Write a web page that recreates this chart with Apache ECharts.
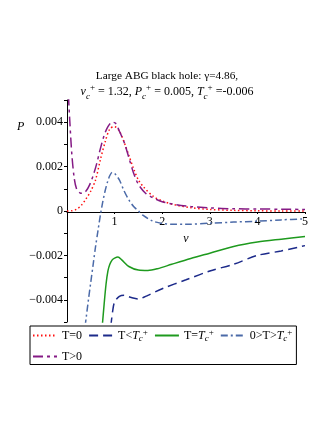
<!DOCTYPE html>
<html>
<head>
<meta charset="utf-8">
<script src="https://cdn.jsdelivr.net/npm/echarts@6/dist/echarts.min.js"></script>
<style>
  html, body { margin: 0; padding: 0; background: #fff; }
  #chart { width: 332px; height: 430px; }
</style>
</head>
<body>
<div id="chart"></div>
<script>
// P-v curves of large ABG black hole
var tZero = [[0,0],[0.1,0.00001],[0.2,0.00008],[0.3,0.00025],[0.4,0.00055],[0.5,0.0009],[0.6,0.0014],[0.7,0.0023],[0.8,0.0031],[0.9,0.0037],[1.0,0.0038],[1.1,0.0036],[1.2,0.0031],[1.3,0.0025],[1.4,0.0019],[1.5,0.0014],[1.6,0.0011],[1.8,0.00068],[2.0,0.00045],[2.3,0.00026],[2.6,0.00015],[3.0,0.00007],[3.5,0.00003],[4.0,0.00001],[4.5,0],[5.0,0]];
var tBelow = [[0.92,-0.0052],[0.96,-0.0045],[1.0,-0.0041],[1.1,-0.00385],[1.2,-0.0038],[1.35,-0.0039],[1.5,-0.00396],[1.7,-0.0038],[2.0,-0.0035],[2.5,-0.0031],[3.0,-0.0027],[3.5,-0.0024],[4.0,-0.0020],[4.5,-0.0018],[5.0,-0.00156]];
var tCrit = [[0.74,-0.0052],[0.78,-0.0042],[0.82,-0.0033],[0.86,-0.0027],[0.9,-0.0024],[0.95,-0.0022],[1.0,-0.00212],[1.07,-0.00207],[1.15,-0.0022],[1.3,-0.0025],[1.5,-0.00266],[1.7,-0.00268],[1.9,-0.0026],[2.2,-0.0024],[2.6,-0.00214],[3.0,-0.0019],[3.5,-0.0016],[4.0,-0.0014],[4.5,-0.00127],[5.0,-0.00115]];
var tMid = [[0.38,-0.0052],[0.45,-0.004],[0.5,-0.0032],[0.55,-0.0024],[0.6,-0.0016],[0.65,-0.0009],[0.7,-0.0002],[0.75,0.0004],[0.8,0.0009],[0.85,0.0013],[0.9,0.0016],[0.95,0.00174],[1.0,0.0017],[1.1,0.0014],[1.2,0.0009],[1.3,0.0005],[1.4,0.0002],[1.5,0],[1.6,-0.0002],[1.8,-0.00045],[2.0,-0.00056],[2.2,-0.0006],[2.5,-0.0006],[3.0,-0.00055],[3.5,-0.0005],[4.0,-0.00046],[4.5,-0.0004],[5.0,-0.00035]];
var tAbove = [[0.03,0.0052],[0.06,0.004],[0.1,0.0026],[0.15,0.0015],[0.2,0.001],[0.27,0.00082],[0.33,0.0008],[0.4,0.0009],[0.48,0.0012],[0.55,0.0016],[0.62,0.0021],[0.7,0.0028],[0.78,0.0034],[0.86,0.0038],[0.95,0.0040],[1.02,0.00395],[1.1,0.0036],[1.2,0.0031],[1.3,0.0024],[1.4,0.0017],[1.5,0.0012],[1.65,0.0008],[1.8,0.0006],[2.0,0.00042],[2.3,0.00028],[2.6,0.0002],[3.0,0.00014],[3.5,0.0001],[4.0,0.00009],[4.5,0.00008],[5.0,0.00007]];
var seriesNames = ['T=0', 'T<Tc', 'T=Tc', '0>T>Tc', 'T>0'];

var chart = echarts.init(document.getElementById('chart'));
var serif = '"Liberation Serif", "DejaVu Serif", serif';
var rich = {
    h: { fontFamily: serif, fontSize: 11.3, fontWeight: 'normal', color: '#000' },
    n: { fontFamily: serif, fontSize: 12, fontWeight: 'normal', color: '#000' },
    i: { fontFamily: serif, fontSize: 12, fontWeight: 'normal', fontStyle: 'italic', color: '#000' },
    sub: { fontFamily: serif, fontSize: 9, fontWeight: 'normal', fontStyle: 'italic', color: '#000', verticalAlign: 'bottom', lineHeight: 18 },
    sup: { fontFamily: serif, fontSize: 9, fontWeight: 'normal', color: '#000', verticalAlign: 'top', lineHeight: 18 }
};
var legRich = {
    n: { fontFamily: serif, fontSize: 12, color: '#000', lineHeight: 13 },
    i: { fontFamily: serif, fontSize: 12, fontStyle: 'italic', color: '#000', lineHeight: 13 },
    sub: { fontFamily: serif, fontSize: 9, fontStyle: 'italic', color: '#000', verticalAlign: 'bottom', lineHeight: 15 },
    sup: { fontFamily: serif, fontSize: 9, color: '#000', verticalAlign: 'top', lineHeight: 15 }
};

function legendText(name) {
    if (name === 'T<Tc') return '{n|T<}{i|T}{sub|c}{sup|+}';
    if (name === 'T=Tc') return '{n|T=}{i|T}{sub|c}{sup|+}';
    if (name === '0>T>Tc') return '{n|0>T>}{i|T}{sub|c}{sup|+}';
    return '{n|' + name + '}';
}

function mkLine(name, data, color, type, width) {
    return {
        name: name,
        type: 'line',
        data: data,
        smooth: 0.3,
        symbol: 'none',
        clip: true,
        lineStyle: { color: color, type: type, width: width },
        itemStyle: { color: color }
    };
}

option = {
    animation: false,
    title: {
        text: '{h|Large ABG black hole: γ=4.86,}\n{i|v}{sub|c}{sup|+}{n| = 1.32, }{i|P}{sub|c}{sup|+}{n| = 0.005, }{i|T}{sub|c}{sup|+}{n| =-0.006}',
        left: 162,
        textAlign: 'center',
        top: 64,
        textStyle: { rich: rich, fontWeight: 'normal', lineHeight: 14 }
    },
    grid: { left: 67, right: 27, top: 100, bottom: 108 },
    legend: {
        data: seriesNames,
        left: 30,
        top: 326,
        width: 262,
        itemWidth: 24,
        itemHeight: 10,
        itemGap: 6,
        padding: [2, 4, 2, 2],
        borderColor: '#000',
        borderWidth: 1,
        borderRadius: 0,
        itemStyle: { color: 'transparent', borderWidth: 0, opacity: 0 },
        formatter: legendText,
        textStyle: { rich: legRich, padding: [0, 0, 0, 0] }
    },
    xAxis: {
        type: 'value',
        min: 0,
        max: 5,
        interval: 1,
        position: 'bottom',
        offset: -110,
        name: 'v',
        nameLocation: 'middle',
        nameGap: 20,
        nameTextStyle: { fontFamily: serif, fontSize: 12, fontStyle: 'italic', color: '#000' },
        axisLine: { onZero: false, lineStyle: { color: '#000', width: 1 } },
        axisTick: { show: true, length: 2, lineStyle: { color: '#000' } },
        axisLabel: {
            fontFamily: serif, fontSize: 12, color: '#000', margin: 4,
            formatter: function (v) { return v === 0 ? '' : String(v); }
        },
        splitLine: { show: false }
    },
    yAxis: {
        type: 'value',
        min: -0.005,
        max: 0.005,
        interval: 0.001,
        axisLine: { show: true, onZero: false, lineStyle: { color: '#000', width: 1 } },
        axisTick: { show: true, length: 3, lineStyle: { color: '#000' } },
        axisLabel: {
            fontFamily: serif, fontSize: 12, color: '#000', margin: 4,
            formatter: function (v) {
                var k = Math.round(v * 1000);
                if (k % 2 !== 0) return '';
                if (k === 0) return '0';
                return (k < 0 ? '\u2212' : '') + (Math.abs(k) / 1000).toFixed(3);
            }
        },
        splitLine: { show: false }
    },
    graphic: [{
        type: 'text',
        left: 17,
        top: 121,
        style: { text: 'P', font: 'italic 12px ' + serif, fill: '#000' }
    }],
    series: [
        mkLine(seriesNames[0], tZero, '#ff1010', [1.5, 2.5], 1.5),
        mkLine(seriesNames[1], tBelow, '#1c2a8a', [9, 5], 1.5),
        mkLine(seriesNames[2], tCrit, '#1e9a1e', 'solid', 1.5),
        mkLine(seriesNames[3], tMid, '#4b6aa8', [7, 3, 2, 3], 1.5),
        mkLine(seriesNames[4], tAbove, '#851a85', [10, 4, 3, 4], 1.5)
    ]
};
chart.setOption(option);
</script>
</body>
</html>
